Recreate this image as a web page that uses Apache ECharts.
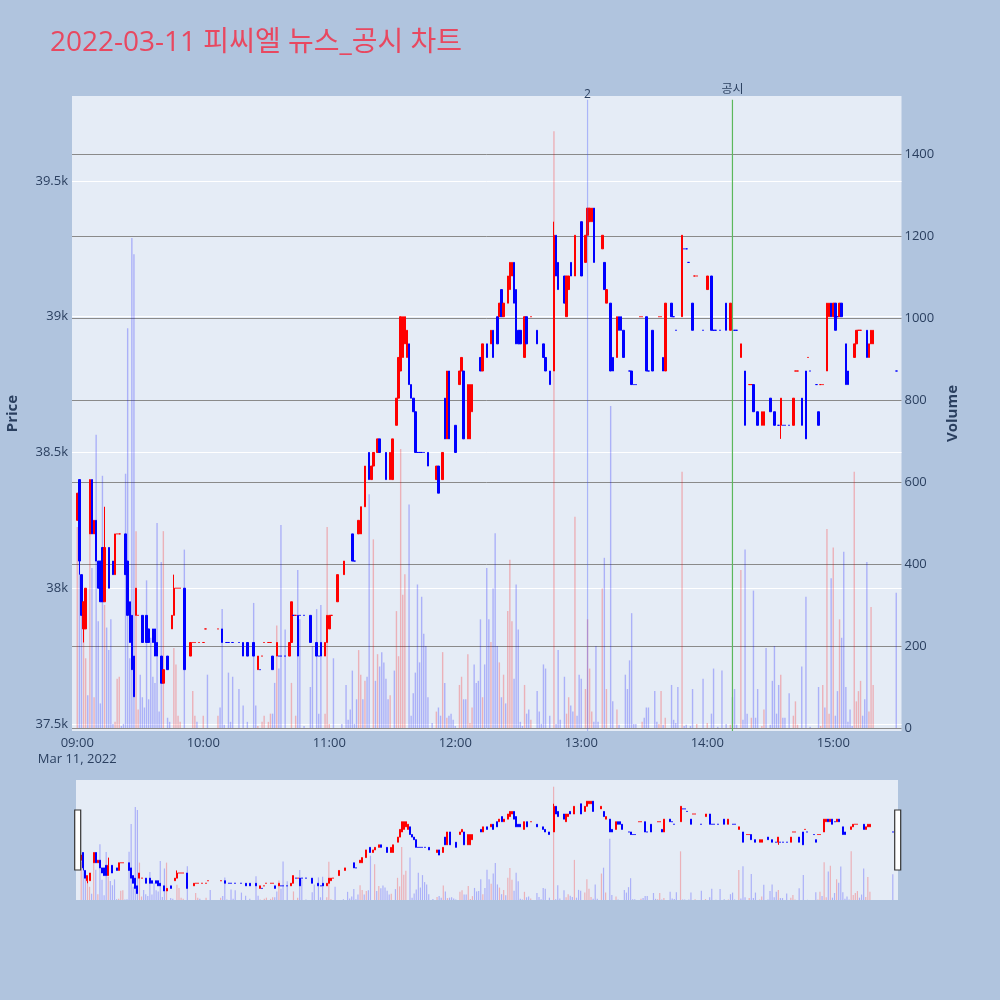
<!DOCTYPE html>
<html>
<head>
<meta charset="utf-8">
<script src="https://cdn.jsdelivr.net/npm/echarts@6/dist/echarts.min.js"></script>
<style>
html, body { margin: 0; padding: 0; background: #b0c4de; }
#chart { width: 1000px; height: 1000px; }
</style>
</head>
<body>
<div id="chart"></div>
<script>
// minutes counted from 09:00; [minute, open, close, low?, high?]
var candles = [
  [0,38250,38350],[1,38400,38100,38050],[2,38050,37900],[3,37850,37950,37800],[4,37850,38000],
  [6,38200,38400],[7,38400,38200],[8,38200,38250],[9,38250,38100],[10,38100,38000],
  [11,38100,37950],[12,38150,37950],[13,37950,38150,37950,38300],[15,38150,38000],
  [17,38100,38050],[18,38050,38200],[19,38200,38200],[20,38200,38200],
  [23,38200,38050],[24,38100,37900],[25,37950,37800],[26,37900,37700],[27,37750,37600],
  [28,37900,38000],[29,37900,37900],[31,37900,37800],[33,37900,37800],[34,37850,37800],
  [36,37850,37800],[37,37850,37750],[38,37800,37750],[40,37750,37650],[41,37650,37700],
  [43,37750,37700],[45,37850,37900],[46,37900,38000,37900,38050],[47,38000,38000],[48,38000,38000],[49,38000,38000],
  [51,38000,37700],[54,37750,37800],[55,37800,37800],[56,37800,37800],[58,37800,37800],[60,37800,37800],
  [61,37850,37850],[67,37850,37850],[69,37850,37800],[71,37800,37800],[72,37800,37800],[74,37800,37800],
  [77,37800,37800],[79,37800,37750],[81,37800,37750],[84,37800,37750],[86,37700,37750],[87,37700,37700],
  [88,37750,37750],[89,37800,37800],[91,37800,37800],[92,37800,37800],[93,37750,37700],[95,37750,37800],
  [96,37750,37750],[97,37750,37750],[99,37750,37750],[101,37750,37800],[102,37800,37950],
  [103,37900,37900],[104,37900,37900],[105,37900,37750],[106,37900,37900],[108,37900,37900],
  [111,37900,37800],[114,37800,37750],[115,37750,37750],[116,37800,37750],[118,37750,37800],
  [119,37800,37900],[120,37850,37900],[121,37900,37900],[124,37950,38050],[127,38050,38100],
  [131,38200,38100],[132,38100,38100],[134,38200,38250],[135,38200,38300],[137,38300,38450],
  [139,38500,38400],[140,38400,38450],[141,38450,38500],[143,38500,38550],[144,38550,38500],
  [147,38500,38400],[149,38400,38500],[150,38400,38550],[152,38600,38700],[153,38700,38850],
  [154,38800,39000],[155,38850,39000],[156,38900,39000],[157,38850,38950],[158,38900,38750],
  [159,38750,38700],[160,38700,38650],[161,38650,38500],[162,38500,38500],[163,38500,38500],
  [164,38500,38500],[165,38500,38500],[167,38500,38450],[171,38400,38450],[172,38450,38350],
  [174,38400,38500],[175,38700,38550],[176,38550,38800],[177,38800,38550],[180,38600,38500],
  [182,38750,38800],[183,38800,38850],[184,38800,38550],[186,38550,38750],[187,38550,38750],
  [188,38650,38750],[192,38850,38800],[193,38800,38900],[195,38900,38850],[197,38900,38950],
  [198,38950,38850],[200,39000,38900],[201,39000,39050],[202,39100,39000],[203,39000,39050],
  [205,39050,39150],[206,39100,39200],[207,39150,39200],[208,39200,39050],[209,39100,38900],
  [210,38950,38900],[211,38950,38900],[213,38850,39000],[214,39000,38900],[216,39000,39000],
  [219,38950,38900],[222,38900,38850],[223,38850,38800],[225,38800,38750],
  [227,38800,39300,38800,39350],[228,39300,39150],[229,39200,39100],[232,39150,39050],
  [233,39000,39150],[234,39100,39150],[235,39200,39150],[237,39150,39300],[240,39350,39150],
  [242,39200,39300],[243,39300,39400],[244,39350,39400],[245,39350,39400],[246,39400,39200],
  [250,39250,39300],[251,39200,39100],[252,39050,39100],[254,39050,38800],[255,38850,38800],
  [257,38850,39000],[258,39000,38950],[259,39000,38950],[260,38950,38850],[263,38800,38800],
  [264,38800,38750],[265,38750,38750],[266,38750,38750],[268,39000,39000],[269,39000,39000],
  [271,39000,38800],[272,38800,38800],[274,38950,38800],[277,39000,39000],[278,39000,39000],
  [279,38850,38800],[280,38800,39050],[283,39050,39000],[284,39000,39000],[285,38950,38950],
  [288,39000,39300],[289,39250,39250],[290,39250,39250],[291,39200,39200],[293,39050,38950],
  [294,39150,39150],[295,39150,39150],[298,38950,38950],[300,39100,39150],[302,39150,38950],
  [303,38950,38950],[304,38950,38950],[306,38950,38950],[309,39050,38950],[311,38950,39050],
  [313,38950,38950],[314,38950,38950],[316,38850,38900],[318,38800,38600],[320,38750,38750],
  [321,38750,38750],[322,38750,38650],[324,38650,38600],[326,38600,38650],[327,38600,38650],
  [330,38700,38650],[332,38650,38600],[334,38600,38600],[335,38600,38700,38550],[336,38600,38600],
  [337,38600,38600],[339,38600,38600],[341,38600,38700],[342,38800,38800],[343,38800,38800],
  [345,38700,38600],[347,38800,38550],[348,38850,38850],[349,38800,38800],[352,38750,38750],
  [353,38650,38600],[354,38750,38750],[355,38750,38750],[357,38800,39050],[358,39000,39050],
  [359,39050,39000],[360,39000,39050],[361,39050,38950],[362,39000,39000],[363,39000,39050],
  [364,39050,39000],[366,38900,38750],[367,38800,38750],[370,38850,38900],[371,38900,38950],
  [372,38950,38950],[373,38950,38950],[376,38950,38850],[377,38850,38900],[378,38900,38950],
  [379,38900,38950],[390,38800,38800]
];

// flat candles drawn red
var redDoji = [19,20,29,47,48,49,55,56,58,60,61,67,88,89,91,92,104,121,216,268,269,277,278,
  294,295,320,321,342,343,348,354,355,372,373];

// [minute, volume]
var volumes = [
  [0,490],[1,410],[2,345],[3,250],[4,170],[5,80],[6,480],[7,390],[8,75],[9,715],[10,260],[11,60],
  [12,615],[13,300],[14,245],[15,190],[16,265],[17,10],[18,15],[19,120],[20,125],[21,5],[22,10],
  [23,620],[24,975],[25,170],[26,1195],[27,1155],[28,480],[29,45],[30,130],[31,75],[32,50],[33,360],
  [34,70],[35,220],[36,125],[37,110],[38,500],[39,40],[40,405],[41,480],[43,25],[44,15],[46,195],
  [47,155],[48,30],[49,15],[51,435],[55,90],[56,30],[57,15],[60,30],[62,130],[67,30],[68,50],[69,290],
  [70,8],[72,135],[73,15],[74,125],[77,95],[79,55],[81,15],[84,305],[85,55],[86,5],[88,15],[89,30],
  [91,15],[92,35],[93,35],[94,110],[95,250],[96,145],[97,495],[99,240],[102,110],[104,30],[105,385],
  [106,265],[108,5],[111,100],[112,200],[114,290],[115,35],[116,300],[118,35],[119,490],[120,10],
  [122,170],[126,10],[128,105],[129,20],[130,45],[131,140],[132,10],[133,70],[134,190],[135,130],
  [136,70],[137,115],[138,125],[139,570],[141,460],[142,115],[143,180],[144,150],[145,185],[146,160],
  [147,120],[148,70],[149,80],[151,140],[152,285],[153,175],[154,680],[155,325],[156,375],[158,545],
  [159,30],[160,85],[161,135],[162,350],[163,160],[164,320],[165,230],[166,200],[167,75],[169,12],
  [171,40],[172,50],[173,30],[174,185],[175,110],[176,25],[177,30],[178,35],[179,20],[180,5],
  [182,105],[183,125],[184,70],[185,70],[186,180],[187,12],[188,50],[189,155],[190,110],[191,115],
  [192,265],[193,75],[194,155],[195,390],[196,265],[197,210],[198,340],[199,475],[200,200],[201,160],
  [202,75],[203,130],[204,60],[205,285],[206,410],[207,260],[208,120],[209,350],[210,240],[211,15],
  [212,5],[213,105],[214,35],[215,45],[216,20],[219,90],[220,40],[221,10],[222,155],[223,145],
  [225,30],[227,1455],[228,10],[229,190],[230,20],[232,125],[233,35],[234,75],[235,55],[236,40],
  [237,515],[238,30],[239,130],[240,120],[242,95],[243,265],[244,145],[245,40],[246,15],[247,200],
  [248,15],[250,340],[251,415],[252,95],[254,785],[255,65],[257,45],[258,8],[261,130],[262,95],
  [263,165],[264,280],[265,10],[266,10],[269,15],[270,25],[271,50],[272,50],[275,90],[276,15],
  [277,10],[278,90],[279,8],[280,25],[283,105],[284,20],[285,12],[286,100],[288,625],[289,5],[290,8],
  [292,5],[293,95],[295,10],[298,120],[300,12],[302,35],[303,145],[305,3],[307,140],[309,10],[311,8],
  [312,75],[313,95],[314,8],[316,385],[317,20],[318,435],[319,35],[321,25],[322,335],[323,25],
  [324,95],[326,5],[327,45],[328,195],[330,8],[331,115],[332,200],[333,35],[334,105],[335,130],
  [336,25],[337,25],[339,85],[341,30],[342,65],[343,8],[345,150],[347,320],[349,3],[353,100],
  [354,5],[355,105],[356,50],[357,485],[358,35],[359,365],[360,440],[361,30],[362,90],[363,265],
  [364,220],[365,430],[366,100],[367,15],[368,45],[369,5],[370,625],[371,65],[372,90],[373,115],
  [374,30],[375,70],[376,405],[377,40],[378,295],[379,105],[390,330]
];

// news / disclosure markers
var newsTime = '13:03', newsLabel = '2';
var disclosureTime = '14:12', disclosureLabel = '공시';

var priceMin = 37474, priceMax = 39813;
var volMin = -7.3, volMax = 1541, volLineTop = 1532;

var UP = '#ff0000', DOWN = '#0000ff';
var UP_VOL = 'rgba(255,0,0,0.25)', DOWN_VOL = 'rgba(0,0,255,0.25)';
var TEXT = '#2a3f5f';
var FONT = '"Open Sans", "Noto Sans CJK KR", sans-serif';

function pad(n) { return (n < 10 ? '0' : '') + n; }

// time axis: 08:58 .. 15:32, one slot per minute
var firstSlot = 8 * 60 + 58, lastSlot = 15 * 60 + 32, offset = 2;
var categories = [];
for (var t = firstSlot; t <= lastSlot; t++) {
    categories.push(pad(Math.floor(t / 60)) + ':' + pad(t % 60));
}

var candleData = categories.map(function () { return '-'; });
var volumeData = categories.map(function () { return '-'; });
var isUp = {};

candles.forEach(function (r) {
    var m = r[0], o = r[1], c = r[2];
    var lo = r[3] != null ? r[3] : Math.min(o, c);
    var hi = r[4] != null ? r[4] : Math.max(o, c);
    var up = c > o || (c === o && redDoji.indexOf(m) >= 0);
    var col = up ? UP : DOWN;
    isUp[m] = up;
    candleData[m + offset] = {
        value: [o, c, lo, hi],
        itemStyle: { color: col, color0: col, borderColor: col, borderColor0: col }
    };
});

volumes.forEach(function (r) {
    volumeData[r[0] + offset] = {
        value: r[1],
        itemStyle: { color: isUp[r[0]] ? UP_VOL : DOWN_VOL }
    };
});

// vertical marker drawn as a two-point line series on the volume axis
function markerSeries(name, time, text, color, labelDistance) {
    return {
        name: name,
        type: 'line',
        xAxisIndex: 0,
        yAxisIndex: 1,
        symbol: 'circle',
        symbolSize: 1,
        showSymbol: true,
        silent: true,
        z: 5,
        lineStyle: { color: color, width: 1.2 },
        itemStyle: { color: 'rgba(0,0,0,0)' },
        data: [
            [time, volMin],
            {
                value: [time, volLineTop],
                label: { show: true, position: 'top', formatter: text, distance: labelDistance,
                         color: TEXT, fontSize: 12, fontFamily: FONT }
            }
        ]
    };
}

var myChart = echarts.init(document.getElementById('chart'));

myChart.setOption({
    animation: false,
    backgroundColor: '#b0c4de',
    title: {
        text: '2022-03-11 피씨엘 뉴스_공시 차트',
        left: 45,
        top: 24,
        textStyle: { color: '#e84860', fontSize: 28, fontWeight: 'normal', fontFamily: FONT }
    },
    grid: [
        { left: 72, right: 98.5, top: 96, bottom: 269, outerBoundsMode: 'none', containLabel: false,
          show: true, backgroundColor: '#e5ecf6', borderWidth: 0 },
        { left: 76, right: 102, top: 780, height: 120, outerBoundsMode: 'none', containLabel: false,
          show: true, backgroundColor: '#e5ecf6', borderWidth: 0 }
    ],
    xAxis: [
        {
            type: 'category',
            gridIndex: 0,
            data: categories,
            boundaryGap: true,
            axisLine: { show: false },
            axisTick: { show: false },
            splitLine: { show: false },
            axisLabel: {
                interval: function (index, value) { return value.slice(3) === '00'; },
                formatter: function (value) {
                    return value === '09:00' ? '09:00\nMar 11, 2022' : value;
                },
                color: TEXT,
                fontSize: 13,
                fontFamily: FONT,
                lineHeight: 16,
                margin: 4
            }
        },
        {
            type: 'category',
            gridIndex: 1,
            data: categories,
            boundaryGap: true,
            show: false
        }
    ],
    yAxis: [
        {
            type: 'value',
            gridIndex: 0,
            min: priceMin,
            max: priceMax,
            splitNumber: 5,
            name: 'Price',
            nameLocation: 'middle',
            nameGap: 52,
            nameTextStyle: { color: TEXT, fontSize: 15, fontWeight: 'bold', fontFamily: FONT },
            axisLine: { show: false },
            axisTick: { show: false },
            axisLabel: {
                color: TEXT,
                fontSize: 13,
                fontFamily: FONT,
                margin: 4,
                formatter: function (v) {
                    if (Math.abs(v % 500) > 1e-6) return '';
                    return (v / 1000) + 'k';
                }
            },
            splitLine: { show: true, showMinLine: false, showMaxLine: false, lineStyle: { color: '#ffffff', width: 1 } }
        },
        {
            type: 'value',
            gridIndex: 0,
            position: 'right',
            min: volMin,
            max: volMax,
            splitNumber: 7,
            name: 'Volume',
            nameLocation: 'middle',
            nameGap: 44,
            nameTextStyle: { color: TEXT, fontSize: 15, fontWeight: 'bold', fontFamily: FONT },
            axisLine: { show: false },
            axisTick: { show: false },
            axisLabel: {
                color: TEXT,
                fontSize: 13,
                fontFamily: FONT,
                margin: 3,
                formatter: function (v) {
                    if (v < 0 || Math.abs(v % 200) > 1e-6) return '';
                    return String(v);
                }
            },
            splitLine: { show: true, showMinLine: false, showMaxLine: false, lineStyle: { color: '#8a8a8a', width: 1 } }
        },
        { type: 'value', gridIndex: 1, min: priceMin, max: priceMax, show: false, splitLine: { show: false } },
        { type: 'value', gridIndex: 1, min: 0, max: volMax, show: false, splitLine: { show: false } }
    ],
    dataZoom: [{
        type: 'slider',
        xAxisIndex: 0,
        start: 0,
        end: 100,
        left: 76,
        right: 102,
        top: 780,
        height: 120,
        showDataShadow: false,
        showDetail: false,
        brushSelect: false,
        moveHandleSize: 0,
        backgroundColor: 'rgba(0,0,0,0)',
        fillerColor: 'rgba(0,0,0,0)',
        borderColor: 'rgba(0,0,0,0)',
        handleIcon: 'path://M0,0H6V60H0Z',
        handleSize: '50%',
        handleStyle: { color: '#ffffff', borderColor: '#333333', borderWidth: 1.2 },
        emphasis: { handleStyle: { color: '#ffffff', borderColor: '#333333' } }
    }],
    series: [
        {
            name: 'price',
            type: 'candlestick',
            xAxisIndex: 0,
            yAxisIndex: 0,
            barWidth: 2,
            itemStyle: { borderWidth: 1 },
            data: candleData
        },
        {
            name: 'volume',
            type: 'bar',
            xAxisIndex: 0,
            yAxisIndex: 1,
            barWidth: 1.4,
            data: volumeData
        },
        markerSeries('news', newsTime, newsLabel, 'rgba(60,80,255,0.35)', -1),
        markerSeries('disclosure', disclosureTime, disclosureLabel, '#5cb85c', 4),
        {
            name: 'price mini',
            type: 'candlestick',
            xAxisIndex: 1,
            yAxisIndex: 2,
            barWidth: 1.5,
            itemStyle: { borderWidth: 1 },
            data: candleData
        },
        {
            name: 'volume mini',
            type: 'bar',
            xAxisIndex: 1,
            yAxisIndex: 3,
            barWidth: 1.2,
            data: volumeData
        }
    ]
});
</script>
</body>
</html>
